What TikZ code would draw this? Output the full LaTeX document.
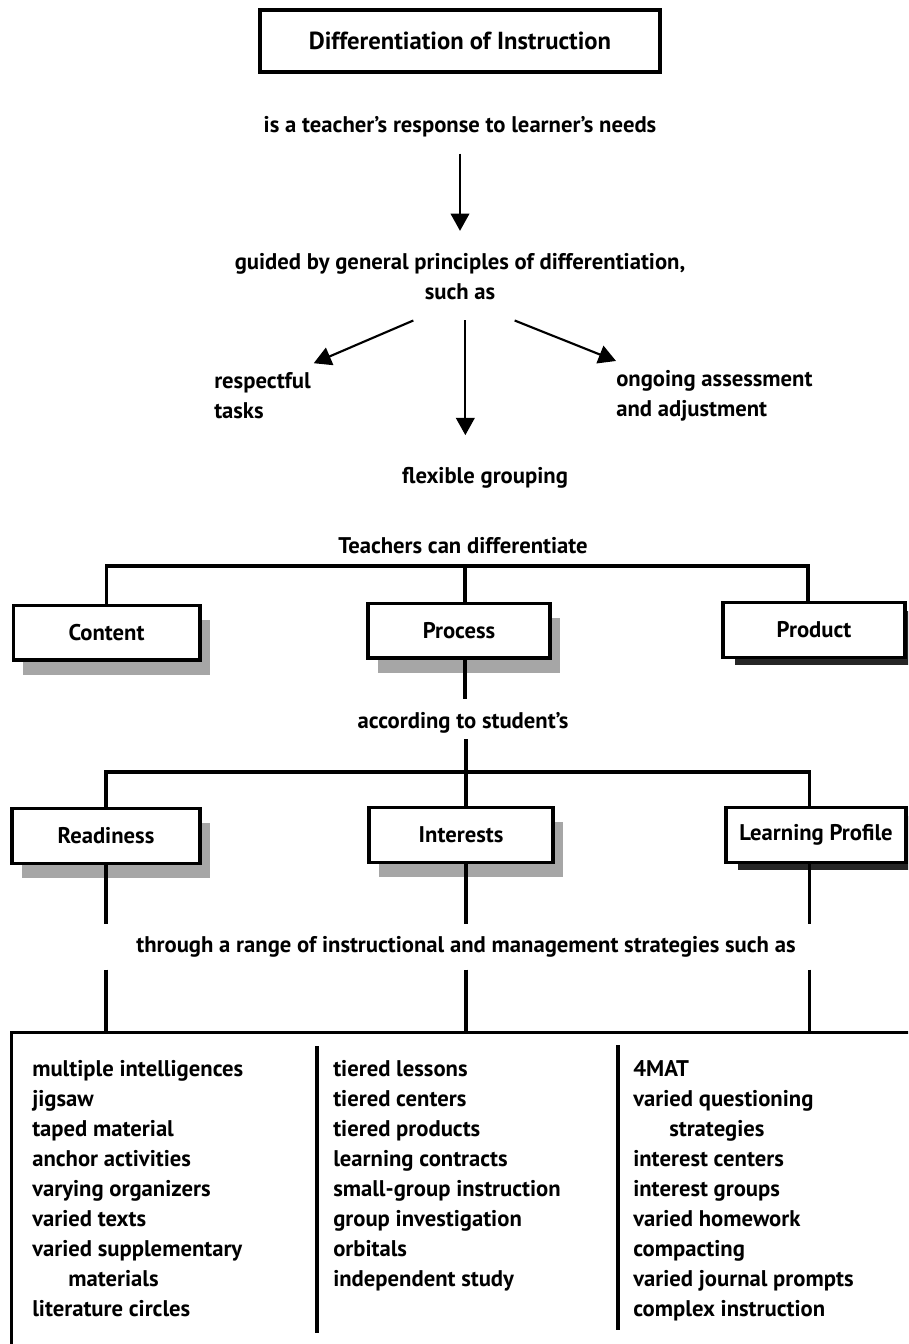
\documentclass[tikz,border=0pt]{standalone}
\usepackage{fontspec}
\setmainfont{PT Sans}
\usetikzlibrary{arrows.meta,shadows,positioning}
\tikzset{
  txt/.style={font=\bfseries\fontsize{17}{22.5}\selectfont, inner sep=0pt},
  box/.style={draw, line width=2.5pt, fill=white, minimum height=41pt, font=\bfseries\fontsize{17}{20}\selectfont},
  lightbox/.style={box, drop shadow={shadow xshift=7.5pt, shadow yshift=-11pt, fill=gray!70, opacity=1}},
  darkbox/.style={box, drop shadow={shadow xshift=9pt, shadow yshift=-6pt, fill=black!85, opacity=1}},
  conn/.style={line width=2.3pt},
  arr/.style={line width=1.6pt, -{Triangle[length=13pt,width=14pt]}},
}
\begin{document}
\begin{tikzpicture}[x=0.75pt, y=-0.75pt]
  \path[clip, use as bounding box] (0,0) rectangle (908,1344);
  \fill[white] (0,0) rectangle (908,1344);
  \node[draw, line width=2.5pt, minimum width=300pt, minimum height=46.5pt, font=\bfseries\fontsize{18.5}{22}\selectfont] (title) at (460,41) {Differentiation of Instruction};
  \node[txt] (resp) at (460,127) {is a teacher’s response to learner’s needs};
  \node[txt, align=center] (guided) at (460,277) {guided by general principles of differentiation,\\ such as};
  \draw[arr] ([yshift=-12pt]resp.south) -- ([yshift=17pt]guided.north);
  \node[txt, align=left, anchor=west] (respect) at (214,396) {respectful\\ tasks};
  \node[txt, align=left, anchor=west] (ongoing) at (616,396) {ongoing assessment\\ and adjustment};
  \node[txt] (flexible) at (485,478) {flexible grouping};
  \draw[arr] ([xshift=-35pt,yshift=-15pt]guided.south) -- ([shift={(2pt,7pt)}]respect.north east);
  \draw[arr] ([xshift=4pt,yshift=-15pt]guided.south) -- ([xshift=4pt,yshift=-101pt]guided.south);
  \draw[arr] ([xshift=41pt,yshift=-15pt]guided.south) -- ([yshift=7pt]ongoing.north west);

  \node[txt] (teach) at (463,546) {Teachers can differentiate};
  \coordinate (bar1) at (465,566);
  \node[lightbox, minimum width=140pt] (content) at (106.5,632.5) {Content};
  \node[lightbox, minimum width=136.5pt] (process) at (459,630.5) {Process};
  \node[darkbox, minimum width=136.5pt] (product) at (814,630) {Product};
  \draw[conn] (content.north) |- (bar1) -| ([xshift=-4.5pt]product.north);
  \draw[conn] (bar1) -- (bar1 |- process.north);

  \node[txt] (accord) at (463,723) {according to student’s};
  \draw[conn, shorten >=10pt] (process.south -| bar1) -- (bar1 |- accord.north);
  \coordinate (bar2) at (466,772);
  \draw[conn, shorten <=4pt] (bar2 |- accord.south) -- (bar2);
  \node[lightbox, minimum width=141pt] (ready) at (106,836) {Readiness};
  \node[lightbox, minimum width=138pt] (interest) at (461,835) {Interests};
  \node[darkbox, minimum width=135pt] (profile) at (816,835) {Learning Profile};
  \draw[conn] (ready.north) |- (bar2) -| ([xshift=-5pt]profile.north);
  \draw[conn] (bar2) -- (bar2 |- interest.north);

  \node[txt] (through) at (466,947) {through a range of instructional and management strategies such as};
  \node[draw, line width=2.5pt, anchor=north west, minimum width=700pt, minimum height=260pt] (strat) at (10,1031) {};
  \foreach \b/\dx in {ready/0pt, interest/3.75pt, profile/-5pt} {
    \draw[conn, shorten >=9pt] ([xshift=\dx]\b.south) -- ([xshift=\dx]\b.south |- through.north);
    \draw[conn, shorten <=9pt] ([xshift=\dx]\b.south |- through.south) -- ([xshift=\dx]\b.south |- strat.north);
  }
  \draw[conn] (317,1046) -- (317,1333);
  \draw[conn] (618,1045) -- (618,1330);
  \node[txt, align=left, anchor=north west] (col1) at (32,1060) {multiple intelligences\\ jigsaw\\ taped material\\ anchor activities\\ varying organizers\\ varied texts\\ varied supplementary\\ \hspace*{27pt}materials\\ literature circles};
  \node[txt, align=left, anchor=north west] (col2) at (333,1060) {tiered lessons\\ tiered centers\\ tiered products\\ learning contracts\\ small-group instruction\\ group investigation\\ orbitals\\ independent study};
  \node[txt, align=left, anchor=north west] (col3) at (633,1060) {4MAT\\ varied questioning\\ \hspace*{27pt}strategies\\ interest centers\\ interest groups\\ varied homework\\ compacting\\ varied journal prompts\\ complex instruction};
\end{tikzpicture}
\end{document}
